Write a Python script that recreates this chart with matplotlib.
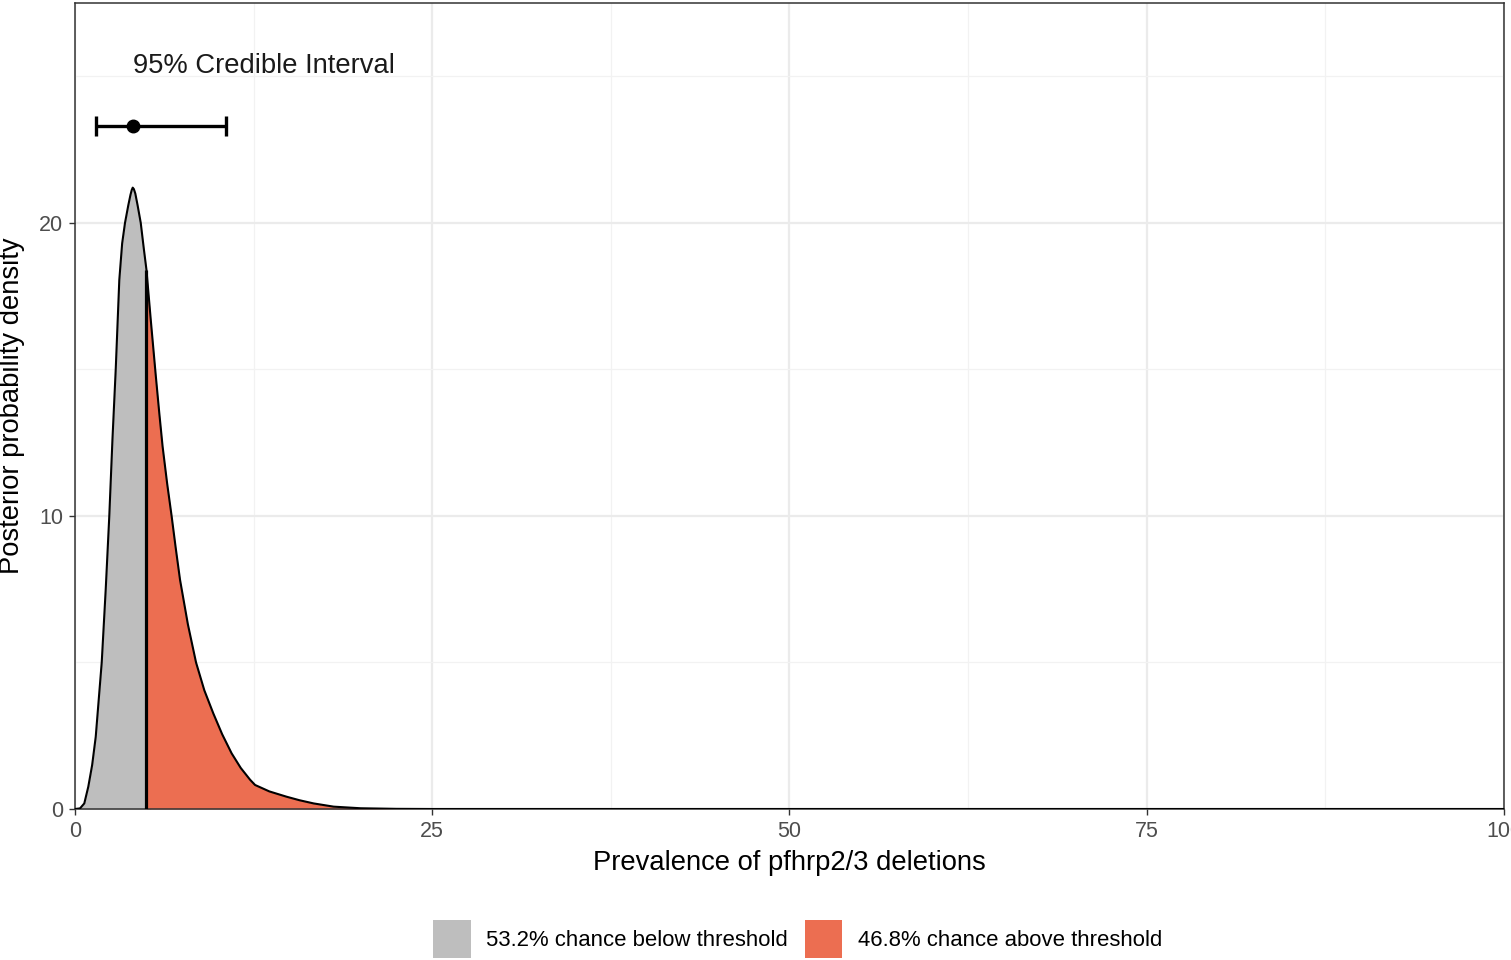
import numpy as np
import matplotlib
matplotlib.use("Agg")
import matplotlib.pyplot as plt
from matplotlib.patches import Patch

# ---------- DATA ----------
prev_x = [0.0, 0.35, 0.65, 0.93, 1.2, 1.45, 1.87, 2.15, 2.4, 2.62,
          2.85, 3.1, 3.3, 3.5, 3.73, 3.88, 3.97, 4.04, 4.12, 4.22,
          4.38, 4.6, 4.82, 5.0, 5.3, 5.65, 5.9, 6.13, 6.45, 6.76,
          7.05, 7.35, 7.9, 8.47, 9.05, 9.68, 10.3, 10.96, 11.6, 12.25,
          12.6, 13.6, 14.8, 15.7, 16.7, 18.1, 20.0, 22.5, 25.0, 100.0]
density = [0.0, 0.02, 0.19, 0.76, 1.5, 2.46, 5.0, 7.5, 10.0, 12.6,
           15.0, 18.05, 19.3, 20.0, 20.6, 20.95, 21.12, 21.2, 21.15, 21.0,
           20.6, 20.0, 19.1, 18.4, 16.7, 14.8, 13.5, 12.37, 11.1, 10.0,
           8.9, 7.82, 6.3, 5.0, 4.05, 3.26, 2.55, 1.9, 1.4, 1.0,
           0.82, 0.6, 0.42, 0.3, 0.19, 0.08, 0.025, 0.005, 0.0, 0.0]

threshold = 5.0
ci_lower, ci_median, ci_upper = 1.45, 4.03, 10.6
ci_y = 23.3

legend_labels = ["53.2% chance below threshold", "46.8% chance above threshold"]
fill_colors = ["#BEBEBE", "#EC6E51"]
# --------------------------------------------------

FONT = "Liberation Sans"
plt.rcParams["font.family"] = [FONT, "DejaVu Sans"]

x = np.array(prev_x)
y = np.array(density)

fig = plt.figure(figsize=(15.11, 9.6), dpi=100)
ax = fig.add_axes([75 / 1511, 1 - 809 / 960, (1504 - 75) / 1511, (809 - 3) / 960])

# grid (ggplot theme_bw look)
ax.set_xlim(0, 100)
ax.set_ylim(0, 27.5)
ax.set_xticks([0, 25, 50, 75, 100])
ax.set_xticks([12.5, 37.5, 62.5, 87.5], minor=True)
ax.set_yticks([0, 10, 20])
ax.set_yticks([5, 15, 25], minor=True)
ax.grid(which="major", color="#EBEBEB", linewidth=1.6, zorder=0)
ax.grid(which="minor", color="#F2F2F2", linewidth=0.9, zorder=0)
ax.set_axisbelow(True)

ax.fill_between(x, 0, y, where=x <= threshold, interpolate=True,
                color=fill_colors[0], linewidth=0, zorder=2)
ax.fill_between(x, 0, y, where=x >= threshold, interpolate=True,
                color=fill_colors[1], linewidth=0, zorder=2)
ax.plot(x, y, color="black", linewidth=1.5, zorder=3, solid_joinstyle="round")
ax.vlines(threshold, 0, np.interp(threshold, x, y), color="black", linewidth=2.3, zorder=3)

# credible interval
ax.errorbar(ci_median, ci_y, xerr=[[ci_median - ci_lower], [ci_upper - ci_median]],
            fmt="o", color="black", markersize=9, elinewidth=2.4, capsize=7.5,
            capthick=2.4, zorder=4)
ax.text(ci_median, 25.1, "95% Credible Interval", ha="left", va="baseline",
        fontsize=19.7, color="#1A1A1A")

for s in ax.spines.values():
    s.set_color("#333333")
    s.set_linewidth(1.1)

ax.tick_params(which="major", length=4.5, width=1.0, color="#333333",
               labelcolor="#4D4D4D", labelsize=15.5, pad=4)
ax.tick_params(which="minor", length=0)

ax.set_xlabel("Prevalence of pfhrp2/3 deletions", fontsize=19.7, color="black", labelpad=6)
ax.set_ylabel("Posterior probability density", fontsize=19.7, color="black", labelpad=10)

handles = [Patch(facecolor=c, edgecolor="none") for c in fill_colors]
fig.legend(handles, legend_labels, loc="center", bbox_to_anchor=(0.5278, 1 - 939 / 960),
           ncol=2, frameon=False, fontsize=15.9, handlelength=1.7, handleheight=2.3,
           handletextpad=0.7, columnspacing=0.75, borderpad=0)

fig.savefig("out.png", dpi=100)
